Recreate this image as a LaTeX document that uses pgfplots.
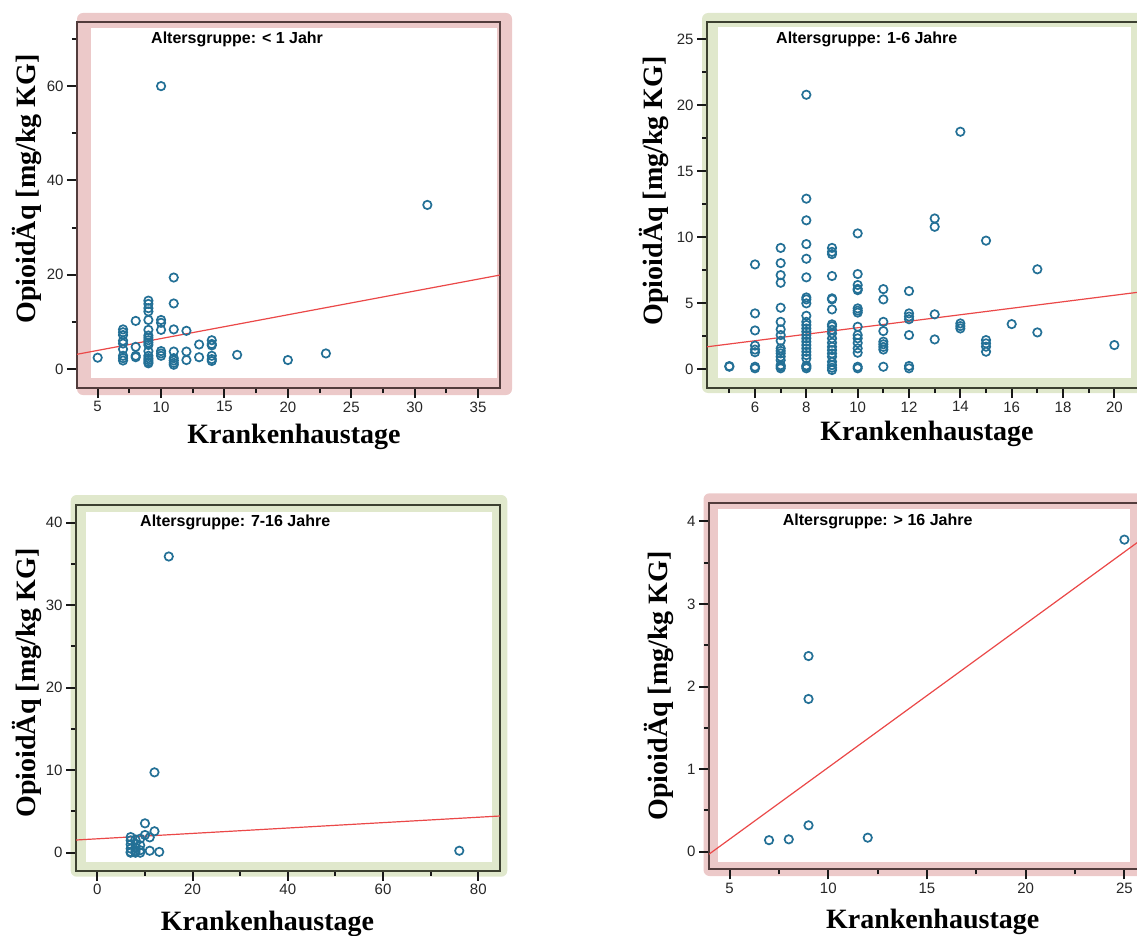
\documentclass[border=0pt]{standalone}
\usepackage{fontspec}
\setmainfont{Liberation Serif}
\newfontfamily\arialf{Liberation Sans}
\usepackage{pgfplots}
\pgfplotsset{compat=1.18}

\definecolor{pinkbg}{RGB}{236,201,201}
\definecolor{greenbg}{RGB}{224,232,204}
\definecolor{pinkframe}{RGB}{82,60,60}
\definecolor{greenframe}{RGB}{60,64,48}
\definecolor{markc}{RGB}{35,112,150}
\definecolor{fitc}{RGB}{235,72,72}

\pgfplotsset{
  panel/.style={
    scale only axis, anchor=south west,
    axis line style={line width=2.2pt, draw=#1},
    xtick pos=bottom, ytick pos=left,
    tick align=outside,
    major tick length=10pt, minor tick length=5pt,
    xtick style={line width=2pt, draw=black!90},
    ytick style={line width=2pt, draw=black!90},
    minor tick style={line width=2pt, draw=black!90},
    tick label style={font=\arialf\fontsize{15}{15}\selectfont, text=black!85},
    /pgf/number format/assume math mode=true,
    scaled ticks=false,
  },
  dots/.style={only marks, mark=o, mark size=4.2pt, mark options={line width=1.7pt, draw=markc}, draw=markc},
  fit/.style={no marks, line width=1.2pt, draw=fitc},
}

\newcommand{\labfont}{\bfseries\fontsize{28}{28}\selectfont}
\newcommand{\titfont}{\arialf\bfseries\fontsize{16}{16}\selectfont}

\begin{document}
\begin{tikzpicture}
\useasboundingbox (0,0) rectangle (1137pt,-936pt);
\clip (0,0) rectangle (1137pt,-936pt);

% ---------- Panel 1: < 1 Jahr ----------
\fill[pinkbg, rounded corners=6pt] (77pt,-13pt) rectangle (512pt,-395pt);
\fill[white] (91pt,-28pt) rectangle (497pt,-378pt);
\begin{axis}[panel=pinkframe, at={(77pt,-388pt)}, width=423pt, height=366pt,
  xmin=3.37, xmax=36.73, ymin=-4.03, ymax=73.6,
  xtick={5,10,...,35}, ytick={0,20,40,60},
  minor xtick={7.5,12.5,...,32.5}, minor ytick={10,30,50,70}]
\addplot[dots] table {
x y
5 2.4
7 8.4
7 7.8
7 7.2
7 6.0
7 5.4
7 4.2
7 2.8
7 2.3
7 1.8
8 10.2
8 4.7
8 2.8
8 2.5
9 14.5
9 13.8
9 12.9
9 12.2
9 10.4
9 8.3
9 7.1
9 6.6
9 6.1
9 5.6
9 5.1
9 3.8
9 2.8
9 2.3
9 1.9
9 1.5
9 1.2
10 60.0
10 10.4
10 9.8
10 8.3
10 3.8
10 3.3
10 2.8
11 19.4
11 13.9
11 8.4
11 3.7
11 2.3
11 1.8
11 1.3
11 0.9
12 8.1
12 3.7
12 1.9
13 5.2
13 2.5
14 6.1
14 5.3
14 5.0
14 2.8
14 2.1
14 1.7
16 3.0
20 1.9
23 3.3
31 34.8
};
\addplot[fit] coordinates {(3.37,3.12) (36.73,19.93)};
\end{axis}
\node[anchor=base west, inner sep=0, font=\titfont] at (151pt,-43.3pt) {Altersgruppe: < 1 Jahr};
\node[anchor=base, font=\labfont] at (294pt,-443pt) {Krankenhaustage};
\node[rotate=90, anchor=base, font=\labfont] at (35pt,-189pt) {OpioidÄq [mg/kg KG]};

% ---------- Panel 2: 1-6 Jahre ----------
\fill[greenbg, rounded corners=6pt] (702pt,-13pt) rectangle (1150pt,-393pt);
\fill[white] (717.5pt,-26.7pt) rectangle (1131pt,-377.7pt);
\begin{axis}[panel=greenframe, at={(707pt,-388pt)}, width=432pt, height=366pt,
  xmin=4.13, xmax=20.96, ymin=-1.41, ymax=26.31,
  xtick={6,8,...,20}, ytick={0,5,...,25},
  minor xtick={5,7,...,21}, minor ytick={2.5,7.5,...,22.5}]
\addplot[dots] table {
x y
5 0.2
5 0.25
6 7.95
6 4.24
6 2.95
6 1.8
6 1.5
6 1.3
6 0.2
6 0.08
7 9.2
7 8.05
7 7.14
7 6.56
7 4.67
7 3.6
7 3.03
7 2.6
7 2.17
7 1.59
7 1.4
7 1.21
7 0.96
7 0.7
7 0.32
7 0.2
7 0.08
8 20.8
8 12.93
8 11.29
8 9.49
8 8.38
8 6.97
8 5.45
8 5.3
8 5.0
8 4.06
8 3.6
8 3.36
8 3.1
8 2.85
8 2.6
8 2.35
8 2.1
8 1.84
8 1.59
8 1.33
8 1.08
8 0.83
8 0.3
8 0.2
8 0.08
9 9.2
9 8.9
9 8.73
9 7.07
9 5.38
9 5.3
9 4.54
9 3.41
9 3.27
9 3.0
9 2.73
9 2.35
9 2.02
9 1.71
9 1.46
9 1.2
9 0.96
9 0.58
9 0.32
9 0.12
9 -0.05
10 10.3
10 7.22
10 6.39
10 6.1
10 6.0
10 4.62
10 4.45
10 4.3
10 3.23
10 2.6
10 2.35
10 2.0
10 1.59
10 1.26
10 0.2
10 0.08
11 6.08
11 5.3
11 3.6
11 2.9
11 2.1
11 1.9
11 1.7
11 1.5
11 0.2
12 5.93
12 4.24
12 4.0
12 3.8
12 2.6
12 0.26
12 0.08
13 11.43
13 10.8
13 4.17
13 2.27
14 18.0
14 3.48
14 3.28
14 3.1
15 9.75
15 2.22
15 1.97
15 1.72
15 1.34
16 3.43
17 7.58
17 2.8
20 1.84
};
\addplot[fit] coordinates {(4.13,1.71) (20.96,5.85)};
\end{axis}
\node[anchor=base west, inner sep=0, font=\titfont] at (776pt,-43.3pt) {Altersgruppe: 1-6 Jahre};
\node[anchor=base, font=\labfont] at (927pt,-440pt) {Krankenhaustage};
\node[rotate=90, anchor=base, font=\labfont] at (662.5pt,-190.8pt) {OpioidÄq [mg/kg KG]};

% ---------- Panel 3: 7-16 Jahre ----------
\fill[greenbg, rounded corners=6pt] (70.7pt,-495pt) rectangle (507.3pt,-876.7pt);
\fill[white] (86pt,-511.7pt) rectangle (491.7pt,-861.7pt);
\begin{axis}[panel=greenframe, at={(76pt,-870.7pt)}, width=424pt, height=365.7pt,
  xmin=-4.48, xmax=84.55, ymin=-2.18, ymax=42.14,
  xtick={0,20,...,80}, ytick={0,10,...,40},
  minor xtick={10,30,...,70}, minor ytick={5,15,...,35}]
\addplot[dots] table {
x y
7 1.9
7 1.5
7 1.0
7 0.5
7 0.1
7 0.0
8 1.6
8 1.1
8 0.6
8 0.2
8 0.0
9 1.7
9 0.9
9 0.3
9 0.0
10 3.56
10 2.15
11 1.86
11 0.24
12 9.74
12 2.6
13 0.1
15 35.9
76 0.24
};
\addplot[fit] coordinates {(-4.48,1.54) (84.55,4.45)};
\end{axis}
\node[anchor=base west, inner sep=0, font=\titfont] at (140pt,-526.7pt) {Altersgruppe: 7-16 Jahre};
\node[anchor=base, font=\labfont] at (267.5pt,-930pt) {Krankenhaustage};
\node[rotate=90, anchor=base, font=\labfont] at (35pt,-683pt) {OpioidÄq [mg/kg KG]};

% ---------- Panel 4: > 16 Jahre ----------
\fill[pinkbg, rounded corners=6pt] (703.5pt,-493.3pt) rectangle (1150pt,-876pt);
\fill[white] (718.3pt,-509.3pt) rectangle (1130pt,-861.7pt);
\begin{axis}[panel=pinkframe, at={(709pt,-869.3pt)}, width=430pt, height=366pt,
  xmin=3.96, xmax=25.74, ymin=-0.213, ymax=4.22,
  xtick={5,10,...,25}, ytick={0,1,...,4},
  minor xtick={7.5,12.5,...,22.5}, minor ytick={0.5,1.5,...,3.5}]
\addplot[dots] table {
x y
7 0.14
8 0.15
9 0.32
9 1.85
9 2.37
12 0.17
25 3.78
};
\addplot[fit] coordinates {(3.96,-0.03) (25.74,3.76)};
\end{axis}
\node[anchor=base west, inner sep=0, font=\titfont] at (782.7pt,-525.7pt) {Altersgruppe: > 16 Jahre};
\node[anchor=base, font=\labfont] at (932.7pt,-928.3pt) {Krankenhaustage};
\node[rotate=90, anchor=base, font=\labfont] at (667pt,-685.8pt) {OpioidÄq [mg/kg KG]};
\end{tikzpicture}
\end{document}
